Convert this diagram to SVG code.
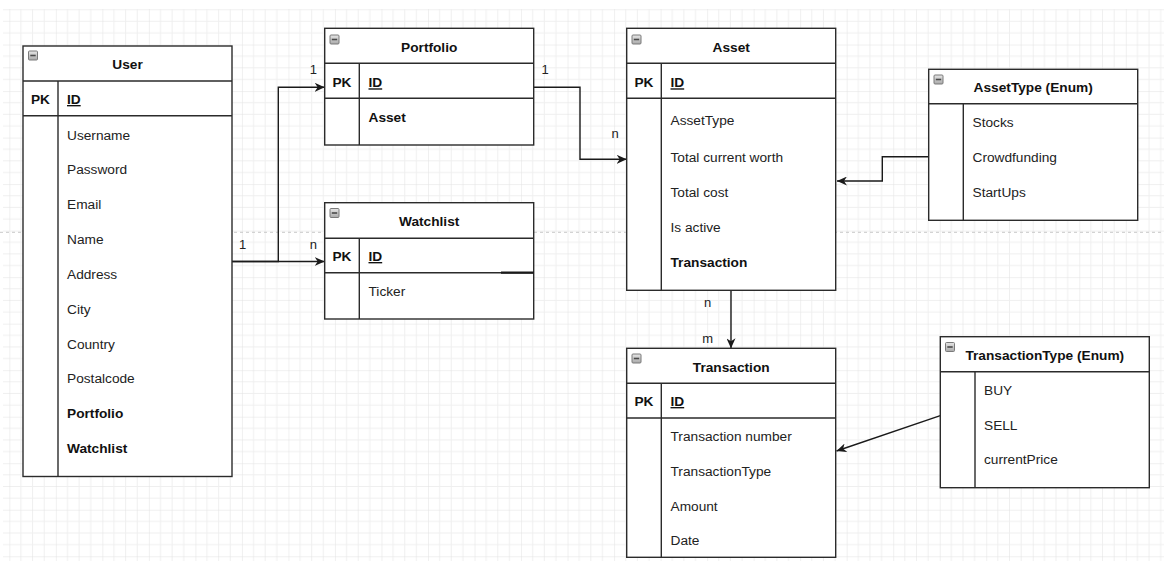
<svg xmlns="http://www.w3.org/2000/svg" width="1164" height="561" viewBox="0 0 1164 561">
  <style>
    .box { fill: #ffffff; stroke: #2b2b2b; stroke-width: 1.4; }
    .sep { stroke: #2b2b2b; stroke-width: 1.4; fill: none; }
    .title { font-family: "Liberation Sans", Arial, sans-serif; font-size: 13.7px; font-weight: bold; fill: #111; text-anchor: middle; }
    .pk { font-family: "Liberation Sans", Arial, sans-serif; font-size: 13.7px; font-weight: bold; fill: #111; text-anchor: middle; }
    .key { font-family: "Liberation Sans", Arial, sans-serif; font-size: 13.7px; font-weight: bold; fill: #111; text-decoration: underline; }
    .field { font-family: "Liberation Sans", Arial, sans-serif; font-size: 13.7px; fill: #222; }
    .ref { font-family: "Liberation Sans", Arial, sans-serif; font-size: 13.7px; font-weight: bold; fill: #111; }
    .lbl { font-family: "Liberation Sans", Arial, sans-serif; font-size: 13px; fill: #222; text-anchor: middle; }
    .edge { fill: none; stroke: #1a1a1a; stroke-width: 1.4; }
  </style>
  <defs>
    <!-- background grid: minor lines every 11.63px, major every 4 cells -->
    <pattern id="grid" patternUnits="userSpaceOnUse" x="9.32" y="44.54" width="46.52" height="46.52">
      <path d="M11.63,0 V46.52 M23.26,0 V46.52 M34.89,0 V46.52 M0,11.63 H46.52 M0,23.26 H46.52 M0,34.89 H46.52" stroke="#efefef" stroke-width="1" fill="none"/>
      <path d="M0,0 V46.52 M0,0 H46.52" stroke="#e2e2e2" stroke-width="1" fill="none"/>
    </pattern>
    <linearGradient id="iconFill" x1="0" y1="0" x2="0" y2="1">
      <stop offset="0" stop-color="#e6e6e6"/>
      <stop offset="1" stop-color="#a9a9a9"/>
    </linearGradient>
    <!-- collapse toggle shown in each table header -->
    <g id="collapse">
      <rect x="0.5" y="0.5" width="9" height="9" rx="1" fill="url(#iconFill)" stroke="#7a7a7a" stroke-width="1"/>
      <path d="M2.3,5 H7.7" stroke="#4a4a4a" stroke-width="1.6"/>
    </g>
    <marker id="arrow" markerUnits="userSpaceOnUse" markerWidth="10" markerHeight="9" refX="10" refY="4.5" orient="auto">
      <path d="M0,0 L10,4.5 L0,9 L3,4.5 Z" fill="#1a1a1a"/>
    </marker>
  </defs>

  <rect width="1164" height="561" fill="#ffffff"/>
  <rect x="3" y="9" width="1161" height="552" fill="url(#grid)"/>
  <!-- page break -->
  <line x1="0" y1="232.3" x2="1164" y2="232.3" stroke="#c8c8c8" stroke-width="1" stroke-dasharray="3,3"/>

  <!-- connectors -->
  <g id="connectors">
    <path class="edge" d="M232,261.5 H278.3 V87.3 H324.7" marker-end="url(#arrow)"/>
    <path class="edge" d="M232,261.5 H324.7" marker-end="url(#arrow)"/>
    <path class="edge" d="M533.7,87.3 H580 V159.3 H626.7" marker-end="url(#arrow)"/>
    <path class="edge" d="M928.7,156.7 H882.3 V181 H837" marker-end="url(#arrow)"/>
    <path class="edge" d="M731,290.3 V348.3" marker-end="url(#arrow)"/>
    <path class="edge" d="M940.3,415.7 L836.5,451" marker-end="url(#arrow)"/>
    <text class="lbl" x="313.3" y="74.3">1</text>
    <text class="lbl" x="242.7" y="249.3">1</text>
    <text class="lbl" x="313.3" y="249.3">n</text>
    <text class="lbl" x="545" y="74.3">1</text>
    <text class="lbl" x="615" y="138.3">n</text>
    <text class="lbl" x="707.5" y="307.3">n</text>
    <text class="lbl" x="707.7" y="342.7">m</text>
  </g>

  <!-- User -->
  <g id="user">
    <rect class="box" x="23" y="46" width="209" height="430.5"/>
    <path class="sep" d="M23,81 H232 M23,115.7 H232 M58,81 V476.5"/>
    <use href="#collapse" x="28" y="50.5"/>
    <text class="title" x="127.5" y="69.3">User</text>
    <text class="pk" x="40.5" y="104">PK</text>
    <text class="key" x="67" y="104">ID</text>
    <text class="field" x="67" y="139.5">Username</text>
    <text class="field" x="67" y="174.3">Password</text>
    <text class="field" x="67" y="209.2">Email</text>
    <text class="field" x="67" y="244">Name</text>
    <text class="field" x="67" y="278.9">Address</text>
    <text class="field" x="67" y="313.7">City</text>
    <text class="field" x="67" y="348.6">Country</text>
    <text class="field" x="67" y="383.4">Postalcode</text>
    <text class="ref" x="67" y="418.3">Portfolio</text>
    <text class="ref" x="67" y="453">Watchlist</text>
  </g>

  <!-- Portfolio -->
  <g id="portfolio">
    <rect class="box" x="324.7" y="28.3" width="209" height="116.7"/>
    <path class="sep" d="M324.7,63.3 H533.7 M324.7,98.3 H533.7 M359.3,63.3 V145"/>
    <use href="#collapse" x="329.5" y="34.5"/>
    <text class="title" x="429.2" y="51.7">Portfolio</text>
    <text class="pk" x="342" y="87.3">PK</text>
    <text class="key" x="368.5" y="87.3">ID</text>
    <text class="ref" x="368.5" y="121.7">Asset</text>
  </g>

  <!-- Watchlist -->
  <g id="watchlist">
    <rect class="box" x="324.7" y="202.7" width="209" height="116.3"/>
    <path class="sep" d="M324.7,238.3 H533.7 M324.7,272.7 H533.7 M359.3,238.3 V319"/>
    <path d="M501,272.7 H533.7" stroke="#1a1a1a" stroke-width="2.2"/>
    <use href="#collapse" x="329.5" y="208"/>
    <text class="title" x="429.2" y="226">Watchlist</text>
    <text class="pk" x="342" y="261">PK</text>
    <text class="key" x="368.5" y="261">ID</text>
    <text class="field" x="368.5" y="295.7">Ticker</text>
  </g>

  <!-- Asset -->
  <g id="asset">
    <rect class="box" x="626.7" y="28.3" width="209" height="262"/>
    <path class="sep" d="M626.7,63.3 H835.7 M626.7,98.3 H835.7 M661.3,63.3 V290.3"/>
    <use href="#collapse" x="631.5" y="34.5"/>
    <text class="title" x="731.2" y="51.7">Asset</text>
    <text class="pk" x="644" y="87.3">PK</text>
    <text class="key" x="670.5" y="87.3">ID</text>
    <text class="field" x="670.5" y="124.5">AssetType</text>
    <text class="field" x="670.5" y="161.7">Total current worth</text>
    <text class="field" x="670.5" y="196.7">Total cost</text>
    <text class="field" x="670.5" y="231.7">Is active</text>
    <text class="ref" x="670.5" y="266.7">Transaction</text>
  </g>

  <!-- AssetType enum -->
  <g id="asset-type">
    <rect class="box" x="928.7" y="69.3" width="209" height="151"/>
    <path class="sep" d="M928.7,103.7 H1137.7 M963.3,103.7 V220.3"/>
    <use href="#collapse" x="933.5" y="74.5"/>
    <text class="title" x="1033.2" y="92.3">AssetType (Enum)</text>
    <text class="field" x="972.5" y="126.7">Stocks</text>
    <text class="field" x="972.5" y="161.7">Crowdfunding</text>
    <text class="field" x="972.5" y="196.7">StartUps</text>
  </g>

  <!-- Transaction -->
  <g id="transaction">
    <rect class="box" x="626.7" y="348.3" width="209" height="209"/>
    <path class="sep" d="M626.7,383.3 H835.7 M626.7,418 H835.7 M661.3,383.3 V557.3"/>
    <use href="#collapse" x="631.5" y="353.5"/>
    <text class="title" x="731.2" y="371.7">Transaction</text>
    <text class="pk" x="644" y="406">PK</text>
    <text class="key" x="670.5" y="406">ID</text>
    <text class="field" x="670.5" y="441.3">Transaction number</text>
    <text class="field" x="670.5" y="476">TransactionType</text>
    <text class="field" x="670.5" y="510.7">Amount</text>
    <text class="field" x="670.5" y="545.3">Date</text>
  </g>

  <!-- TransactionType enum -->
  <g id="transaction-type">
    <rect class="box" x="940.3" y="336.7" width="209" height="151"/>
    <path class="sep" d="M940.3,371.7 H1149.3 M975,371.7 V487.7"/>
    <use href="#collapse" x="945" y="342"/>
    <text class="title" x="1044.8" y="360">TransactionType (Enum)</text>
    <text class="field" x="984" y="395">BUY</text>
    <text class="field" x="984" y="430">SELL</text>
    <text class="field" x="984" y="464.3">currentPrice</text>
  </g>
</svg>
